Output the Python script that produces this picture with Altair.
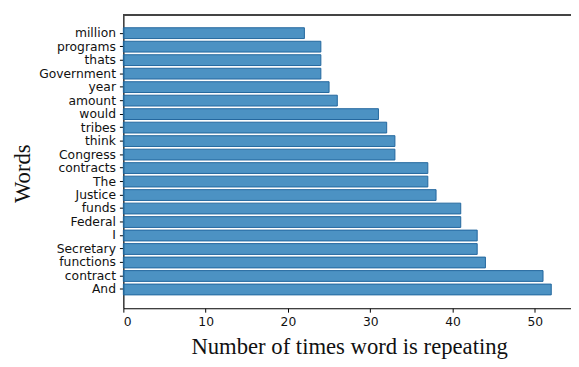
import altair as alt
import pandas as pd

words = ["million", "programs", "thats", "Government", "year", "amount", "would",
         "tribes", "think", "Congress", "contracts", "The", "Justice", "funds",
         "Federal", "I", "Secretary", "functions", "contract", "And"]
counts = [22, 24, 24, 24, 25, 26, 31, 32, 33, 33, 37, 37, 38, 41, 41, 43, 43, 44, 51, 52]
x_ticks = [0, 10, 20, 30, 40, 50]

df = pd.DataFrame({"word": words, "count": counts})

W, H = 454, 298

bars = alt.Chart(df).mark_bar(
    fill="#1f77b4", fillOpacity=0.8, stroke="#23679d", strokeWidth=1
).encode(
    x=alt.X("count:Q",
            scale=alt.Scale(domain=[0, 54.4], nice=False, zero=True),
            axis=alt.Axis(values=x_ticks, grid=False, title="Number of times word is repeating",
                          domainColor="black", domainWidth=1.2, tickColor="black", tickSize=4,
                          labelFont="DejaVu Sans", labelFontSize=12.5, labelColor="#111",
                          labelPadding=4,
                          titleFont="Liberation Serif", titleFontSize=23, titleFontWeight="normal",
                          titleColor="#111", titleX=229, titleY=46, titleBaseline="alphabetic")),
    y=alt.Y("word:N", sort=words,
            scale=alt.Scale(paddingInner=0.2, paddingOuter=0.99),
            axis=alt.Axis(grid=False, title="Words",
                          domainColor="black", domainWidth=1.2, tickColor="black", tickSize=4,
                          labelFont="DejaVu Sans", labelFontSize=12.5, labelColor="#111",
                          labelPadding=4,
                          titleFont="Liberation Serif", titleFontSize=23, titleFontWeight="normal",
                          titleColor="#111", titleAngle=270, titleX=-102, titleY=161,
                          titleAlign="center", titleBaseline="middle")),
)

top_line = alt.Chart(df).mark_rule(color="#444", strokeWidth=1.2).encode(
    x=alt.value(0), x2=alt.value(W), y=alt.value(0.5)
)

chart = alt.layer(bars, top_line).properties(
    width=W, height=H,
    autosize=alt.AutoSizeParams(type="none"),
    padding={"left": 117, "top": 4, "right": 0, "bottom": 50},
).configure_view(stroke=None)

chart.save("out.html", embed_options={"renderer": "svg", "actions": False})
